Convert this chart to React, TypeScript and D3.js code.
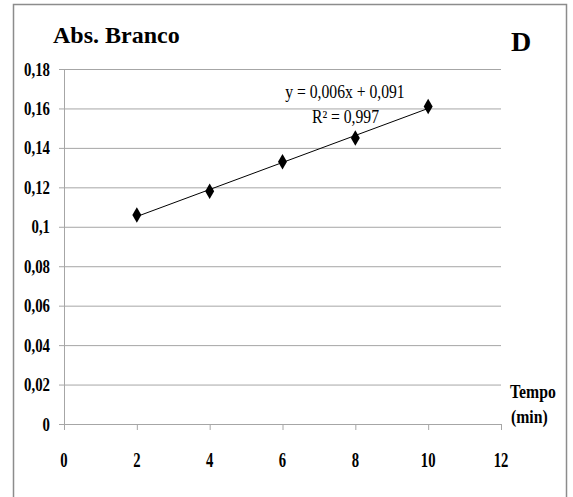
import React from "react";
import * as d3 from "d3";

const times: number[] = [2, 4, 6, 8, 10];
const absorbance: number[] = [0.106, 0.118, 0.133, 0.145, 0.161];
const xTicks: number[] = [0, 2, 4, 6, 8, 10, 12];
const yTicks: number[] = [0, 0.02, 0.04, 0.06, 0.08, 0.1, 0.12, 0.14, 0.16, 0.18];
const equationText = "y = 0,006x + 0,091";
const r2Text = "R² = 0,997";

const W = 573;
const H = 497;
const plot = { left: 64, right: 501, top: 69, bottom: 424 };
const serif = "'Liberation Serif', 'Times New Roman', serif";
const grid = "#a6a6a6";

const fmt = (v: number) => (v === 0 ? "0" : String(+v.toFixed(2)).replace(".", ","));

// text squeezed horizontally around its anchor point
function Narrow(props: {
  x: number;
  y: number;
  sx: number;
  size: number;
  bold?: boolean;
  anchor?: "start" | "middle" | "end";
  children: React.ReactNode;
}) {
  const { x, y, sx, size, bold, anchor = "start", children } = props;
  return (
    <text
      transform={`translate(${x},${y}) scale(${sx},1)`}
      textAnchor={anchor}
      fontSize={size}
      fontWeight={bold ? "bold" : "normal"}
      fill="#000"
      style={{ fontFamily: serif }}
    >
      {children}
    </text>
  );
}

export default function App() {
  const x = d3.scaleLinear().domain([0, 12]).range([plot.left, plot.right]);
  const y = d3.scaleLinear().domain([0, 0.18]).range([plot.bottom, plot.top]);

  // least-squares fit for the trendline
  const mx = d3.mean(times) as number;
  const my = d3.mean(absorbance) as number;
  const sxy = d3.sum(times.map((t, i) => (t - mx) * (absorbance[i] - my)));
  const sxx = d3.sum(times.map((t) => (t - mx) ** 2));
  const slope = sxy / sxx;
  const intercept = my - slope * mx;
  const x0 = d3.min(times) as number;
  const x1 = d3.max(times) as number;

  const diamond = d3.symbol().type(d3.symbolDiamond).size(70)() as string;

  return (
    <svg
      width={W}
      height={H}
      style={{ position: "absolute", left: 0, top: 0, background: "#fff", fontFamily: serif }}
    >
      <rect x={13.5} y={4.5} width={553} height={520} fill="#fff" stroke="#8c8c8c" strokeWidth={1.5} />

      {yTicks.map((t) => (
        <g key={t}>
          <line x1={plot.left - 5} x2={plot.right} y1={y(t) + 0.5} y2={y(t) + 0.5} stroke={grid} strokeWidth={1} />
          <Narrow x={50} y={y(t) + 6.5} sx={0.78} size={19} bold anchor="end">
            {fmt(t)}
          </Narrow>
        </g>
      ))}

      <line x1={plot.left + 0.5} x2={plot.left + 0.5} y1={plot.top} y2={plot.bottom + 5} stroke={grid} />
      {xTicks.map((t) => (
        <g key={t}>
          <line x1={x(t) + 0.5} x2={x(t) + 0.5} y1={plot.bottom} y2={plot.bottom + 6} stroke={grid} />
          <Narrow x={x(t)} y={467} sx={0.7} size={21} bold anchor="middle">
            {t}
          </Narrow>
        </g>
      ))}

      <line
        x1={x(x0)}
        y1={y(slope * x0 + intercept)}
        x2={x(x1)}
        y2={y(slope * x1 + intercept)}
        stroke="#000"
        strokeWidth={1}
      />

      {times.map((t, i) => (
        <path key={t} d={diamond} transform={`translate(${x(t)},${y(absorbance[i])})`} fill="#000" />
      ))}

      <Narrow x={53} y={43} sx={1} size={24} bold>Abs. Branco</Narrow>
      <Narrow x={511} y={51} sx={1} size={28} bold>D</Narrow>

      <Narrow x={345} y={98} sx={0.87} size={18} anchor="middle">{equationText}</Narrow>
      <Narrow x={345.5} y={123} sx={0.87} size={18} anchor="middle">{r2Text}</Narrow>

      <Narrow x={510} y={398} sx={0.83} size={19} bold>Tempo</Narrow>
      <Narrow x={511} y={423} sx={0.83} size={19} bold>(min)</Narrow>
    </svg>
  );
}
